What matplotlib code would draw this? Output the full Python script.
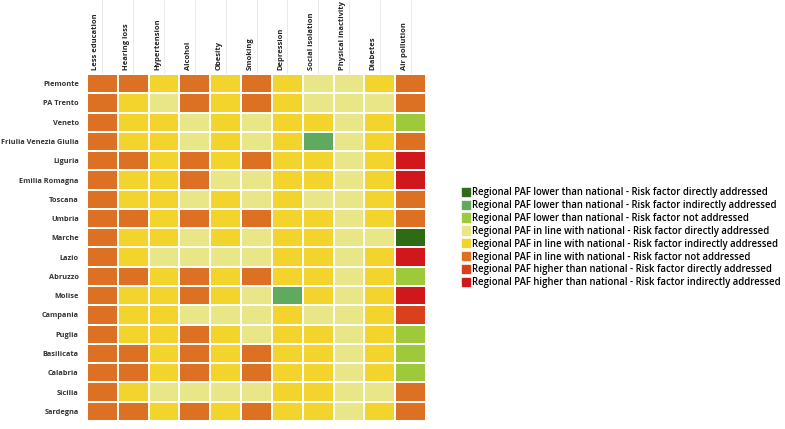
import numpy as np
import matplotlib
matplotlib.use("Agg")
import matplotlib.pyplot as plt
from matplotlib.colors import ListedColormap, BoundaryNorm
from matplotlib.patches import Patch
import matplotlib.transforms as mtransforms

plt.rcParams['font.family'] = ['Open Sans', 'DejaVu Sans']

regions = ["Piemonte", "PA Trento", "Veneto", "Friulia Venezia Giulia", "Liguria",
           "Emilia Romagna", "Toscana", "Umbria", "Marche", "Lazio", "Abruzzo",
           "Molise", "Campania", "Puglia", "Basilicata", "Calabria", "Sicilia", "Sardegna"]

factors = ["Less education", "Hearing loss", "Hypertension", "Alcohol", "Obesity",
           "Smoking", "Depression", "Social isolation", "Physical inactivity",
           "Diabetes", "Air pollution"]

categories = [
    "Regional PAF lower than national - Risk factor directly addressed",
    "Regional PAF lower than national - Risk factor indirectly addressed",
    "Regional PAF lower than national - Risk factor not addressed",
    "Regional PAF in line with national - Risk factor directly addressed",
    "Regional PAF in line with national - Risk factor indirectly addressed",
    "Regional PAF in line with national - Risk factor not addressed",
    "Regional PAF higher than national - Risk factor directly addressed",
    "Regional PAF higher than national - Risk factor indirectly addressed",
]
cat_colors = ["#2f6b14", "#5faa5f", "#9dc93b", "#e9e688",
              "#f2d42c", "#dc7124", "#d8401e", "#d0181c"]

# category index per cell (rows = regions, cols = factors)
codes = [
    [5, 5, 4, 5, 4, 5, 4, 3, 3, 4, 5],  # Piemonte
    [5, 4, 3, 5, 4, 5, 4, 3, 3, 3, 5],  # PA Trento
    [5, 4, 4, 3, 4, 3, 4, 4, 3, 4, 2],  # Veneto
    [5, 4, 4, 3, 4, 3, 4, 1, 3, 4, 5],  # Friulia Venezia Giulia
    [5, 5, 4, 5, 4, 5, 4, 4, 3, 4, 7],  # Liguria
    [5, 4, 4, 5, 3, 3, 4, 4, 3, 4, 7],  # Emilia Romagna
    [5, 4, 4, 3, 4, 3, 4, 3, 3, 4, 5],  # Toscana
    [5, 5, 4, 5, 4, 5, 4, 4, 3, 4, 5],  # Umbria
    [5, 4, 4, 3, 4, 3, 4, 4, 3, 3, 0],  # Marche
    [5, 4, 3, 3, 3, 3, 4, 4, 3, 4, 7],  # Lazio
    [5, 5, 4, 5, 4, 5, 4, 4, 3, 4, 2],  # Abruzzo
    [5, 4, 4, 5, 4, 3, 1, 4, 3, 4, 7],  # Molise
    [5, 4, 4, 3, 3, 3, 4, 3, 3, 4, 6],  # Campania
    [5, 4, 4, 5, 4, 3, 4, 4, 3, 4, 2],  # Puglia
    [5, 5, 4, 5, 4, 5, 4, 4, 3, 4, 2],  # Basilicata
    [5, 5, 4, 5, 4, 5, 4, 4, 3, 4, 2],  # Calabria
    [5, 4, 3, 3, 3, 3, 4, 4, 3, 3, 5],  # Sicilia
    [5, 5, 4, 5, 4, 5, 4, 4, 3, 4, 5],  # Sardegna
]

data = np.array(codes)
cmap = ListedColormap(cat_colors)
norm = BoundaryNorm(np.arange(-0.5, len(cat_colors)), cmap.N)

fig = plt.figure(figsize=(7.85, 4.29), dpi=100)
ax = fig.add_axes([87 / 785, 1 - 421 / 429, 339 / 785, 347 / 429])

ax.pcolormesh(data, cmap=cmap, norm=norm, edgecolors="white", linewidth=1.3)
ax.set_xlim(0, len(factors))
ax.set_ylim(len(regions), 0)
for s in ax.spines.values():
    s.set_visible(False)
ax.set_xticks([])
ax.set_yticks(np.arange(len(regions)) + 0.5)
ax.set_yticklabels(regions, fontsize=5.3, fontweight="bold", color="#333333")
ax.tick_params(axis="y", length=0, pad=6)

# faint guide lines and rotated column headers above the grid
trans = mtransforms.blended_transform_factory(ax.transData, ax.transAxes)
for i, name in enumerate(factors):
    ax.plot([i + 0.5, i + 0.5], [1.0, 1.0 + 74 / 347], color="#e6e6e6",
            linewidth=0.6, transform=trans, clip_on=False, zorder=0)
    ax.text(i + 0.4, 1.0 + 4 / 347, name, rotation=90, ha="right", va="bottom",
            fontsize=5.4, fontweight="bold", color="#222222", transform=trans)

handles = [Patch(facecolor=c, edgecolor=c, label=l) for c, l in zip(cat_colors, categories)]
fig.legend(handles=handles, loc="upper left", bbox_to_anchor=(462 / 785, 1 - 187 / 429),
           frameon=False, handlelength=0.8, handleheight=0.95,
           handletextpad=0.25, labelspacing=0.2, borderaxespad=0, borderpad=0,
           prop={"size": 6.85, "weight": "semibold"})

fig.savefig("out.png", dpi=100, facecolor="white")
